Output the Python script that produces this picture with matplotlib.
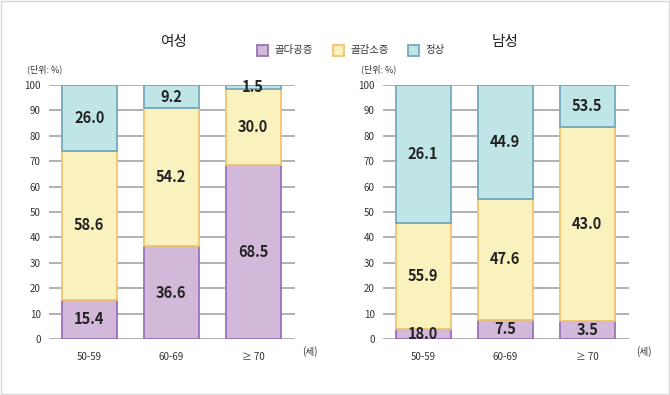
import numpy as np
import matplotlib.pyplot as plt
from matplotlib.patches import Rectangle

plt.rcParams['font.family'] = ['Noto Sans CJK KR', 'DejaVu Sans']

# data
ages = ["50-59", "60-69", "\u2265 70"]
series = ["골다공증", "골감소증", "정상"]

# 여성
women_osteo = [15.4, 36.6, 68.5]
women_penia = [58.6, 54.2, 30.0]
women_normal = [26.0, 9.2, 1.5]
women_labels = [["15.4", "36.6", "68.5"], ["58.6", "54.2", "30.0"], ["26.0", "9.2", "1.5"]]

# 남성 (bar heights as drawn in the source, labels as printed)
men_osteo = [4.0, 7.5, 7.0]
men_penia = [41.6, 47.6, 76.6]
men_normal = [54.4, 44.9, 16.4]
men_labels = [["18.0", "7.5", "3.5"], ["55.9", "47.6", "43.0"], ["26.1", "44.9", "53.5"]]

fills = ["#d2b9d9", "#f9f2bf", "#bfe5e6"]
edges = ["#9a72b8", "#f1c46e", "#74aabd"]

fig = plt.figure(figsize=(6.7, 3.95), dpi=100)
fig.patches.append(Rectangle((0.001, 0.002), 0.997, 0.995, transform=fig.transFigure,
                             fill=False, edgecolor="#d8d8d8", linewidth=1.0))


def draw_panel(ax, stacks, labels, title, title_x):
    x = np.arange(len(ages))
    bottom = np.zeros(len(ages))
    for i, vals in enumerate(stacks):
        vals = np.array(vals)
        ax.bar(x, vals, bottom=bottom, width=0.67, color=fills[i], edgecolor=edges[i],
               linewidth=1.3, zorder=3)
        for j in range(len(ages)):
            ax.text(x[j], bottom[j] + vals[j] / 2, labels[i][j], ha="center", va="center",
                    fontsize=10.5, fontweight="bold", color="#222222", zorder=4)
        bottom = bottom + vals
    ax.set_xlim(-0.49, 2.51)
    ax.set_ylim(0, 100)
    ax.set_yticks(range(0, 101, 10))
    ax.yaxis.grid(True, color="#aaaaaa", linewidth=1.3, zorder=0)
    ax.set_axisbelow(True)
    ax.set_xticks(x)
    ax.set_xticklabels(ages)
    ax.tick_params(axis="both", length=0, labelsize=7, colors="#333333")
    ax.tick_params(axis="x", pad=9)
    ax.tick_params(axis="y", pad=6)
    for s in ax.spines.values():
        s.set_visible(False)
    ax.text(1.03, -0.05, "(세)", transform=ax.transAxes, ha="left", va="center",
            fontsize=7, color="#333333")
    ax.text(-0.09, 1.06, "(단위: %)", transform=ax.transAxes, ha="left", va="center",
            fontsize=6.5, color="#333333")
    fig.text(title_x, 0.893, title, ha="center", va="center", fontsize=10.5, color="#222222")


ax1 = fig.add_axes([49 / 670, 56 / 395, 246 / 670, 254 / 395])
draw_panel(ax1, [women_osteo, women_penia, women_normal], women_labels, "여성", 173 / 670)

ax2 = fig.add_axes([383 / 670, 56 / 395, 246 / 670, 254 / 395])
draw_panel(ax2, [men_osteo, men_penia, men_normal], men_labels, "남성", 505 / 670)

# legend
leg_x = [257, 333, 408]
for i, name in enumerate(series):
    fig.patches.append(Rectangle((leg_x[i] / 670, (395 - 56) / 395), 11 / 670, 11 / 395,
                                 transform=fig.transFigure, facecolor=fills[i],
                                 edgecolor=edges[i], linewidth=1.3))
    fig.text((leg_x[i] + 17) / 670, (395 - 50.5) / 395, name, ha="left", va="center",
             fontsize=7.5, color="#333333")

fig.savefig("out.png", dpi=100)
